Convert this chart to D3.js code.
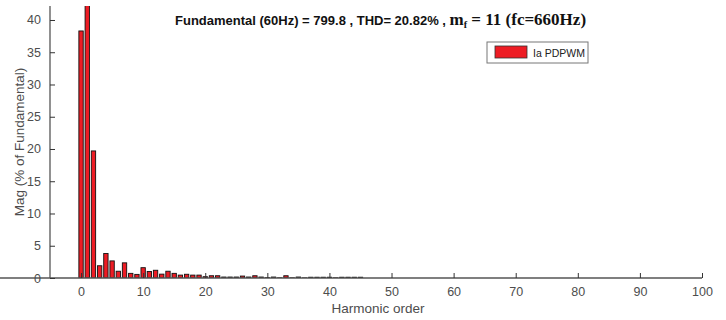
<!DOCTYPE html>
<html><head><meta charset="utf-8">
<script src="https://cdn.jsdelivr.net/npm/d3@7"></script>
<style>body{margin:0;background:#fff}svg{display:block}</style>
</head><body>
<svg id="c" width="726" height="320"></svg>
<script>
const harmonics = d3.range(0, 46);
const magnitudes = [38.3,100,19.7,1.9,3.8,2.65,1.05,2.35,0.72,0.56,
  1.6,1.0,1.2,0.6,1.05,0.72,0.45,0.58,0.45,0.45,
  0.2,0.35,0.35,0.15,0.15,0.15,0.3,0.15,0.35,0.15,
  0.05,0.15,0.03,0.35,0.03,0.15,0.02,0.12,0.12,0.12,
  0.12,0.03,0.12,0.12,0.12,0.12];
const xTicks = [0,10,20,30,40,50,60,70,80,90,100];
const yTicks = [0,5,10,15,20,25,30,35,40];
const seriesName = "Ia PDPWM";
const titleA = "Fundamental (60Hz) = 799.8 , THD= 20.82% , ";

const svg = d3.select("#c");
const L=50, R=702, T=6, B=278;
const x = d3.scaleLinear().domain([-5,100]).range([L,R]);
const y = d3.scaleLinear().domain([0,42.17]).range([B,T]);
const bw = (x(1)-x(0))*0.7;

svg.append("clipPath").attr("id","clip").append("rect")
  .attr("x",L).attr("y",T).attr("width",R-L).attr("height",B-T);

svg.append("g").attr("clip-path","url(#clip)")
  .selectAll("rect").data(harmonics).join("rect")
  .attr("x",d=>x(d)-bw/2).attr("width",bw)
  .attr("y",(d,i)=>y(magnitudes[i]))
  .attr("height",(d,i)=>Math.max(0,B-y(magnitudes[i])))
  .attr("fill","#ed1c24").attr("stroke","#111").attr("stroke-width",0.9);

const axCol="#555";
const xa = svg.append("g").attr("transform",`translate(0,${B})`)
  .call(d3.axisBottom(x).tickValues(xTicks).tickSizeInner(-5).tickSizeOuter(0).tickPadding(9));
const ya = svg.append("g").attr("transform",`translate(${L},0)`)
  .call(d3.axisLeft(y).tickValues(yTicks).tickSizeInner(-5).tickSizeOuter(0).tickPadding(9));
[xa,ya].forEach(g=>{
  g.select(".domain").attr("stroke",axCol).attr("stroke-width",1.3);
  g.selectAll(".tick line").attr("stroke","#333");
  g.selectAll("text").attr("fill","#4d4d4d").style("font-family","Liberation Sans, Arial, sans-serif").style("font-size","12.5px");
});
// y domain line to full top
ya.select(".domain").attr("d",`M0,${B}V${T}`);
xa.select(".domain").attr("d",`M${L-x(-5)+0},0H${R-0}`);

svg.append("text").attr("x",(L+R)/2+2).attr("y",313).attr("text-anchor","middle")
  .attr("fill","#4d4d4d").style("font-family","Liberation Sans, Arial, sans-serif").style("font-size","13.5px")
  .text("Harmonic order");
svg.append("text").attr("transform",`translate(24,${(T+B)/2}) rotate(-90)`).attr("text-anchor","middle")
  .attr("fill","#4d4d4d").style("font-family","Liberation Sans, Arial, sans-serif").style("font-size","13.5px")
  .text("Mag (% of Fundamental)");

const t = svg.append("text").attr("x",175).attr("y",25).attr("fill","#111");
t.append("tspan").style("font-family","Liberation Sans, Arial, sans-serif").style("font-weight","bold").style("font-size","13px").text(titleA);
t.append("tspan").style("font-family","Liberation Serif, Times New Roman, serif").style("font-weight","bold").style("font-size","17px").text("m");
t.append("tspan").attr("dy",3).style("font-family","Liberation Serif, Times New Roman, serif").style("font-weight","bold").style("font-size","10px").text("f");
t.append("tspan").attr("dy",-3).style("font-family","Liberation Serif, Times New Roman, serif").style("font-weight","bold").style("font-size","17px").text(" = 11 (fc=660Hz)");

const lg = svg.append("g");
lg.append("rect").attr("x",487).attr("y",42).attr("width",101).attr("height",21)
  .attr("fill","#fff").attr("stroke","#777").attr("stroke-width",1);
lg.append("rect").attr("x",495).attr("y",46).attr("width",32).attr("height",12)
  .attr("fill","#ed1c24").attr("stroke","#333").attr("stroke-width",0.8);
lg.append("text").attr("x",533).attr("y",56.5).attr("fill","#222")
  .style("font-family","Liberation Sans, Arial, sans-serif").style("font-size","10.5px").text(seriesName);
</script>
</body></html>
